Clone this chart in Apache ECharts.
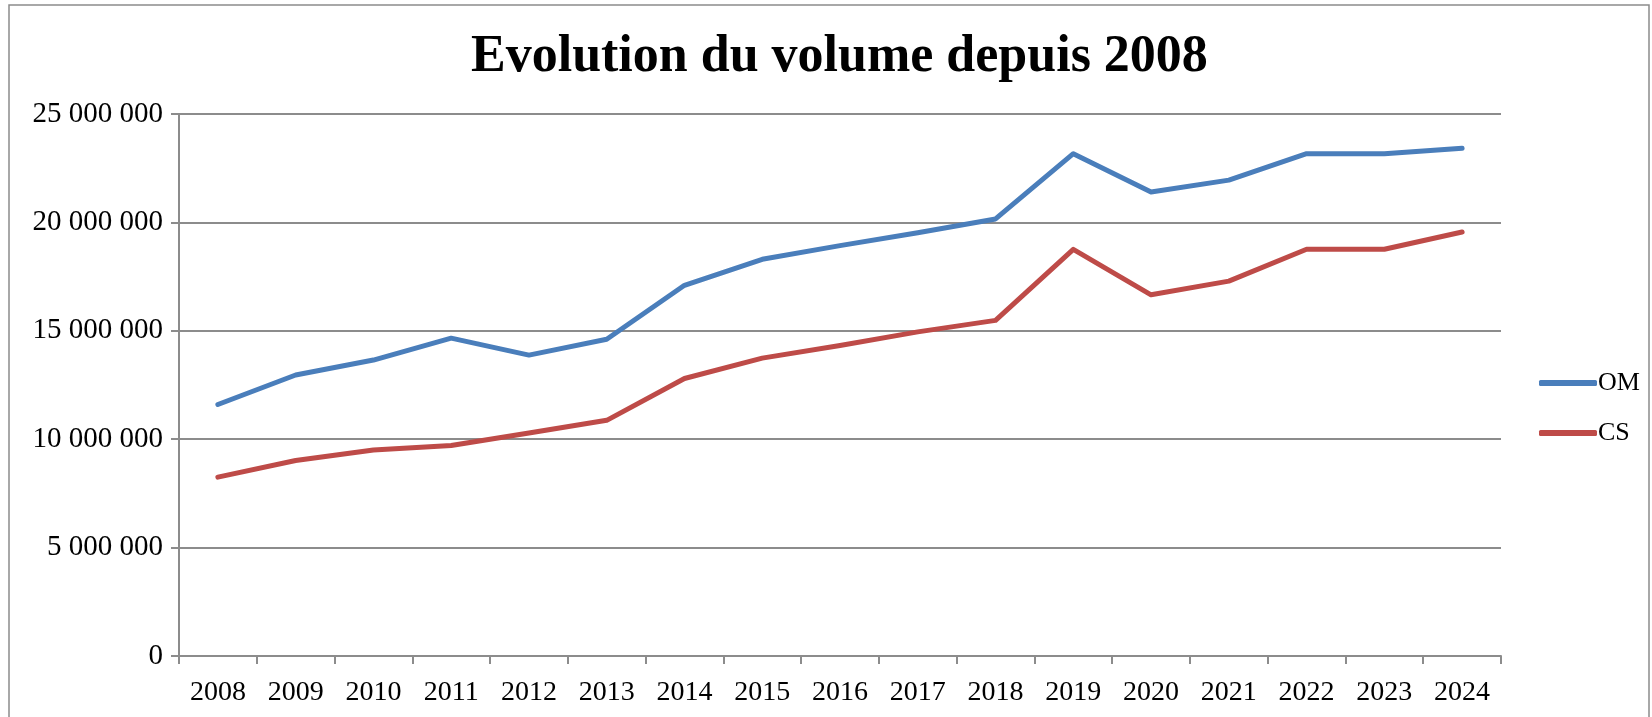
<!DOCTYPE html>
<html>
<head>
<meta charset="utf-8">
<script src="https://cdn.jsdelivr.net/npm/echarts@6/dist/echarts.min.js"></script>
<style>
  html, body { margin: 0; padding: 0; background: #fff; }
  #main { width: 1652px; height: 717px; }
</style>
</head>
<body>
<div id="main"></div>
<script>
const years = ["2008", "2009", "2010", "2011", "2012", "2013", "2014", "2015", "2016",
  "2017", "2018", "2019", "2020", "2021", "2022", "2023", "2024"];
const omValues = [11600000, 12960000, 13650000, 14660000, 13880000, 14610000, 17100000,
  18300000, 18930000, 19520000, 20160000, 23170000, 21400000, 21950000, 23170000, 23170000, 23420000];
const csValues = [8250000, 9020000, 9500000, 9710000, 10290000, 10870000, 12800000,
  13740000, 14320000, 14950000, 15480000, 18760000, 16660000, 17290000, 18760000, 18760000, 19560000];
const yTicks = [0, 5000000, 10000000, 15000000, 20000000, 25000000];

const chart = echarts.init(document.getElementById("main"));
const font = "'Liberation Serif', serif";
const gridColor = "#8c8c8c";

const fmt = (v) => String(v).replace(/\B(?=(\d{3})+(?!\d))/g, " ");

chart.setOption({
  animation: false,
  backgroundColor: "#fff",
  graphic: [{
    type: "rect",
    shape: { x: 9, y: 5, width: 1640, height: 720 },
    style: { fill: "none", stroke: "#8c8c8c", lineWidth: 1.5 },
    silent: true,
  }],
  title: {
    text: "Evolution du volume depuis 2008",
    left: 466,
    top: 27,
    textStyle: { fontFamily: font, fontWeight: "bold", fontSize: 52, color: "#000" },
  },
  legend: {
    orient: "vertical",
    left: 1534,
    top: 365,
    icon: "roundRect",
    itemWidth: 58,
    itemHeight: 6,
    itemGap: 24,
    textStyle: { fontFamily: font, fontSize: 26, color: "#000", padding: [0, 0, 0, -4] },
    data: ["OM", "CS"],
  },
  grid: { left: 179, right: 151, top: 114, bottom: 61, containLabel: false },
  xAxis: {
    type: "category",
    data: years,
    boundaryGap: true,
    axisLine: { lineStyle: { color: gridColor, width: 2 } },
    axisTick: { show: true, length: 8, lineStyle: { color: gridColor, width: 2 } },
    axisLabel: { fontFamily: font, fontSize: 28, color: "#000", margin: 23 },
  },
  yAxis: {
    type: "value",
    min: 0,
    max: 25000000,
    interval: 5000000,
    axisLine: { show: true, lineStyle: { color: gridColor, width: 2 } },
    axisTick: { show: true, length: 8, lineStyle: { color: gridColor, width: 2 } },
    splitLine: { lineStyle: { color: gridColor, width: 2 } },
    axisLabel: {
      fontFamily: font, fontSize: 29, color: "#000", margin: 16,
      formatter: (v) => (yTicks.includes(v) ? fmt(v) : ""),
    },
  },
  series: [
    {
      name: "OM",
      type: "line",
      data: omValues,
      symbol: "none",
      color: "#4a7ebb",
      lineStyle: { width: 5, color: "#4a7ebb", cap: "round", join: "round" },
    },
    {
      name: "CS",
      type: "line",
      data: csValues,
      symbol: "none",
      color: "#be4b48",
      lineStyle: { width: 5, color: "#be4b48", cap: "round", join: "round" },
    },
  ],
});
</script>
</body>
</html>
